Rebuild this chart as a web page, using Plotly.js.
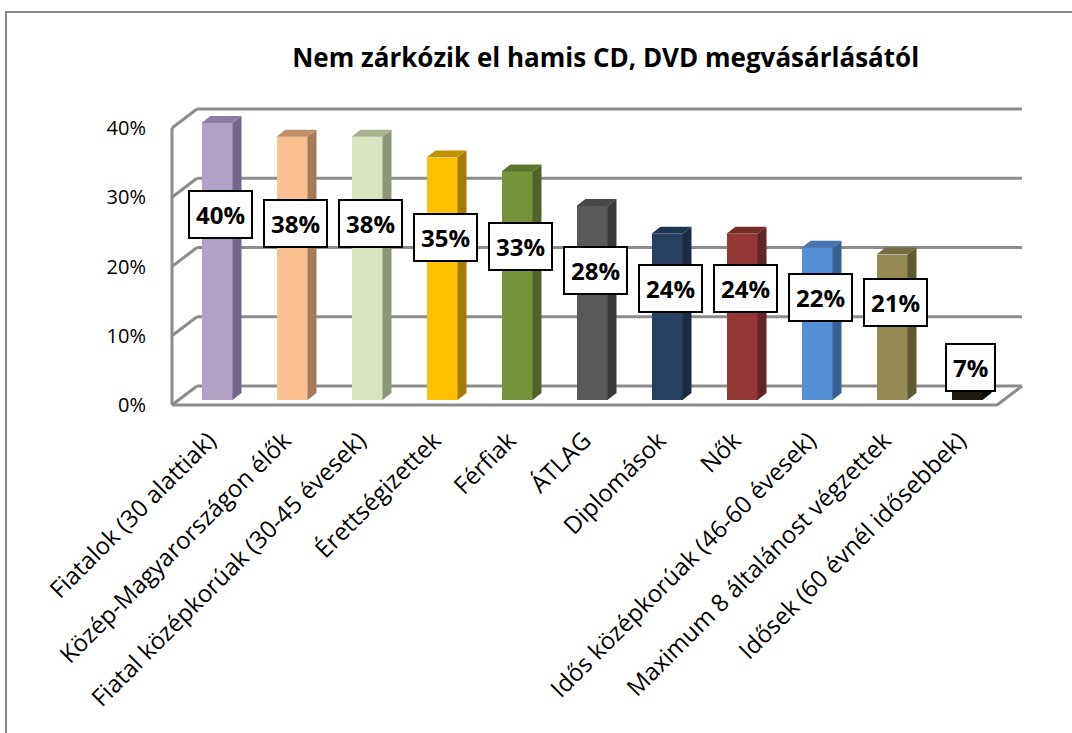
<!DOCTYPE html>
<html>
<head>
<meta charset="utf-8">
<script src="https://cdn.plot.ly/plotly-3.0.1.min.js"></script>
<style>
  html, body { margin: 0; padding: 0; background: #ffffff; }
  #chart { width: 1072px; height: 733px; }
</style>
</head>
<body>
<div id="chart"></div>
<script>
// ---- data ----
const categories = [
  "Fiatalok (30 alattiak)",
  "Közép-Magyarországon élők",
  "Fiatal középkorúak (30-45 évesek)",
  "Érettségizettek",
  "Férfiak",
  "ÁTLAG",
  "Diplomások",
  "Nők",
  "Idős középkorúak (46-60 évesek)",
  "Maximum 8 általánost végzettek",
  "Idősek (60 évnél idősebbek)"
];
const values = [40, 38, 38, 35, 33, 28, 24, 24, 22, 21, 7];
const frontColors = ["#B3A2C7", "#FAC090", "#D7E4BD", "#FFC000", "#77933C", "#595959", "#254061", "#953735", "#558ED5", "#948A54", "#1D1B10"];
const sideColors  = ["#75668B", "#A57B5A", "#8C967B", "#A67C00", "#4F6228", "#3A3A3A", "#1A2D45", "#632523", "#376092", "#5F5A36", "#0C0B06"];
const topColors   = ["#8E7DA6", "#C08E68", "#A8B292", "#C49200", "#5E7630", "#474747", "#1F3653", "#772C2A", "#4675B0", "#766D42", "#000000"];
const yTicks = [0, 10, 20, 30, 40];
const titleText = "Nem zárkózik el hamis CD, DVD megvásárlásától";

const FONT = "'Open Sans', Lato, sans-serif";

// ---- geometry (pixel-derived constants, in axis units) ----
const pxPerUnitY = 6.925;   // px per 1 %
const pxPerUnitX = 75;      // px per category
const barW = 31 / pxPerUnitX;
const depthX = 9 / pxPerUnitX, depthY = 7 / pxPerUnitY;       // bar depth
const frontOff = 5 / pxPerUnitY, backOff = 14 / pxPerUnitY;    // wall offsets
const wallFrontX = -0.6, wallBackX = -0.6 + 25 / pxPerUnitX;
const floorFrontRight = 10.4, floorBackRight = 10.4 + 25 / pxPerUnitX;
const labelShiftX = -8 / pxPerUnitX;

const xs = categories.map((c, i) => i);
const traces = [];

// front faces
traces.push({
  type: "bar", x: xs, y: values, width: barW,
  marker: { color: frontColors, line: { width: 0 } },
  hoverinfo: "skip", showlegend: false
});
// side and top faces
values.forEach((v, i) => {
  const r = i + barW / 2, l = i - barW / 2;
  traces.push({
    type: "scatter", mode: "lines", fill: "toself",
    x: [r, r + depthX, r + depthX, r, r],
    y: [0, depthY, v + depthY, v, 0],
    fillcolor: sideColors[i], line: { width: 0, color: sideColors[i] },
    hoverinfo: "skip", showlegend: false
  });
  traces.push({
    type: "scatter", mode: "lines", fill: "toself",
    x: [l, l + depthX, r + depthX, r, l],
    y: [v, v + depthY, v + depthY, v, v],
    fillcolor: topColors[i], line: { width: 0, color: topColors[i] },
    hoverinfo: "skip", showlegend: false
  });
});

// walls / gridlines as shapes under the traces
const gridColor = "#8C8C8C";
const shapes = [];
yTicks.forEach(t => {
  shapes.push({ type: "line", layer: "below", xref: "x", yref: "y",
    x0: wallBackX, y0: t + backOff, x1: floorBackRight, y1: t + backOff,
    line: { color: gridColor, width: 3 } });
  shapes.push({ type: "line", layer: "below", xref: "x", yref: "y",
    x0: wallFrontX, y0: t - frontOff, x1: wallBackX, y1: t + backOff,
    line: { color: gridColor, width: 3 } });
});
shapes.push({ type: "line", layer: "below", xref: "x", yref: "y",
  x0: wallFrontX, y0: -frontOff, x1: wallFrontX, y1: yTicks[yTicks.length - 1] - frontOff,
  line: { color: gridColor, width: 3 } });
shapes.push({ type: "line", layer: "below", xref: "x", yref: "y",
  x0: wallFrontX, y0: -frontOff, x1: floorFrontRight, y1: -frontOff,
  line: { color: gridColor, width: 3 } });
shapes.push({ type: "line", layer: "below", xref: "x", yref: "y",
  x0: floorFrontRight, y0: -frontOff, x1: floorBackRight, y1: backOff,
  line: { color: gridColor, width: 3 } });
// outer chart border (left + top)
shapes.push({ type: "path", xref: "paper", yref: "paper",
  path: "M -0.1838 -1.2 L -0.1838 1.2839 L 1.2 1.2839",
  line: { color: "#8A8A8A", width: 2 } });

// data labels
const annotations = values.map((v, i) => ({
  x: i + 0.04, y: v * 0.67, xref: "x", yref: "y",
  text: "<b>" + v + "%</b>", showarrow: false,
  font: { family: FONT, size: 24, color: "#000000" },
  bgcolor: "#FFFFFF", bordercolor: "#000000", borderwidth: 2,
  borderpad: 6, xanchor: "center", yanchor: "middle"
}));

const layout = {
  width: 1072, height: 733,
  margin: { l: 165, r: 42, t: 100, b: 323 },
  paper_bgcolor: "#FFFFFF", plot_bgcolor: "rgba(0,0,0,0)",
  title: {
    text: "<b>" + titleText + "</b>",
    font: { family: FONT, size: 26, color: "#000000" },
    x: 0.565, xref: "container", xanchor: "center",
    y: 1 - 58 / 733, yref: "container", yanchor: "middle"
  },
  xaxis: {
    type: "linear",
    range: [-0.6933, 10.84],
    tickvals: xs.map(x => x + labelShiftX), ticktext: categories,
    tickangle: -45,
    ticks: "outside", ticklen: 6, tickcolor: "rgba(0,0,0,0)",
    showgrid: false, zeroline: false, showline: false,
    tickfont: { family: FONT, size: 24, color: "#000000" },
    fixedrange: true
  },
  yaxis: {
    range: [-1.444, 43.32],
    tickvals: yTicks.map(t => t - frontOff),
    ticktext: yTicks.map(t => t + "%"),
    ticks: "outside", ticklen: 14, tickcolor: "rgba(0,0,0,0)",
    showgrid: false, zeroline: false, showline: false,
    tickfont: { family: FONT, size: 20, color: "#000000" },
    fixedrange: true
  },
  shapes: shapes,
  annotations: annotations,
  showlegend: false,
  bargap: 0
};

Plotly.newPlot("chart", traces, layout, { displayModeBar: false, staticPlot: true });
</script>
</body>
</html>
